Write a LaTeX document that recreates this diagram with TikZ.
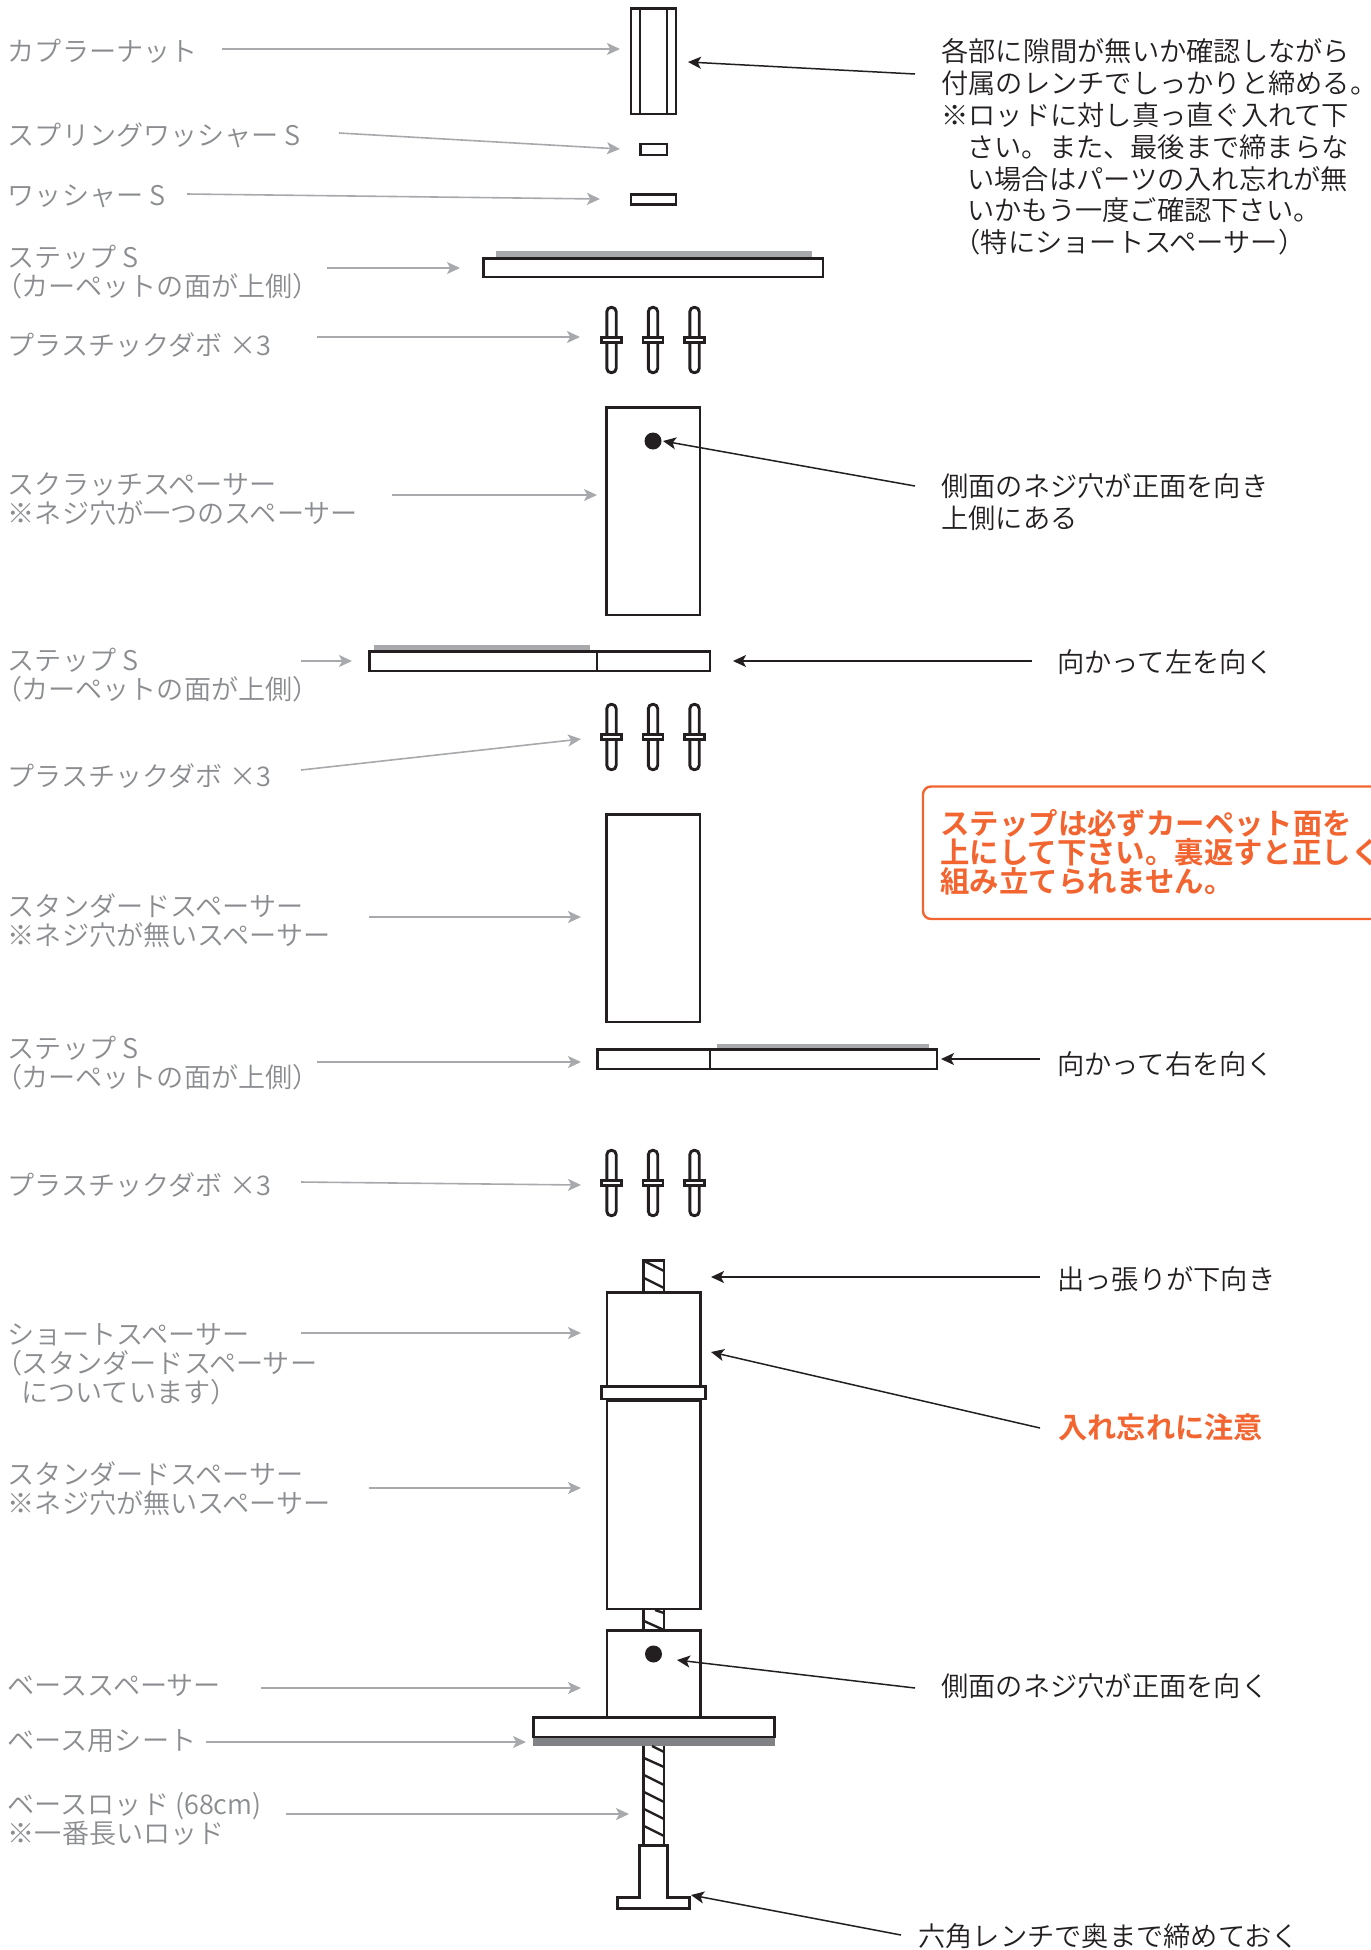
\documentclass[tikz,border=0pt]{standalone}
\usepackage{fontspec}
\usetikzlibrary{arrows.meta}
\setmainfont{Noto Sans CJK JP}
\newfontfamily\lightcjk{Noto Sans CJK JP DemiLight}
\newfontfamily\boldcjk{Noto Sans CJK JP Bold}
\definecolor{ink}{HTML}{231F20}
\definecolor{labgrey}{HTML}{8A8C8F}
\definecolor{arrgrey}{HTML}{A7A9AC}
\definecolor{carpet}{HTML}{A7A9AC}
\definecolor{sheet}{HTML}{808285}
\definecolor{warn}{HTML}{F26531}
\newcommand{\lpar}{{\addfontfeatures{RawFeature=+palt}（}}
\newcommand{\rpar}{）}
\newcommand{\garrow}[3]{%
  \coordinate (#1s) at (#2); \coordinate (#1e) at (#3);
  \draw[greyarrow] (#1s) -- (#1e);}
\newcommand{\barrow}[3]{%
  \coordinate (#1s) at (#2); \coordinate (#1e) at (#3);
  \draw[blackarrow] (#1s) -- (#1e);}
\newcommand{\dowel}[2]{%
  \draw[part,rounded corners=2.2pt] (#1-4.7,#2+1.3) rectangle (#1+4.7,#2+66.7);
  \draw[part,fill=white] (#1-10,#2+31.5) rectangle (#1+10,#2+36.5);}
\newcommand{\dowels}[1]{\dowel{611.5}{#1}\dowel{653}{#1}\dowel{694.5}{#1}}
\tikzset{
  x=0.5pt,y=-0.5pt,
  part/.style={draw=ink,line width=1.45pt,line join=miter},
  thin part/.style={draw=ink,line width=1pt},
  hatch/.style={draw=ink,line width=1.2pt},
  greyarrow/.style={draw=arrgrey,line width=0.8pt,-{Stealth[length=6.5pt,width=6pt,inset=1.6pt]}},
  blackarrow/.style={draw=ink,line width=0.75pt,-{Stealth[length=6.5pt,width=6pt,inset=1.6pt]}},
  leftlab/.style={anchor=west,inner sep=0pt,align=left,text=labgrey,font=\lightcjk\fontsize{13.55}{14.5}\selectfont},
  rightlab/.style={anchor=west,inner sep=0pt,align=left,text=ink,font=\lightcjk\fontsize{13.62}{15.9}\selectfont},
  warnlab/.style={anchor=west,inner sep=0pt,align=left,text=warn,font=\boldcjk\fontsize{14.7}{14.5}\selectfont},
}
\begin{document}
\begin{tikzpicture}
\useasboundingbox (0,0) rectangle (1371,1950);
\clip (0,0) rectangle (1371,1950);
% carpets and sheet
\fill[carpet] (496,251) rectangle (812,257.5);
\fill[carpet] (374,645) rectangle (590,651);
\fill[carpet] (717,1044) rectangle (929,1049);
\fill[sheet] (533,1737) rectangle (775,1746);
% coupler nut
\draw[part] (631,8.5) rectangle (676,114);
\draw[part] (640,8.5) -- (640,114) (667,8.5) -- (667,114);
% washers
\draw[part] (640.5,144) rectangle (667,155);
\draw[part] (631,194.5) rectangle (676,204.5);
% step 1
\draw[part] (483.5,258.5) rectangle (823,277);
\dowels{306}
% scratch spacer
\draw[part] (606.5,407.5) rectangle (700,615);
\fill[ink] (653,441) circle[radius=8.5];
% step 2
\draw[part] (369.5,651.5) rectangle (710,671);
\draw[thin part] (597,651) -- (597,671);
\dowels{703}
% standard spacer
\draw[part] (606.5,814.5) rectangle (700,1022);
% step 3
\draw[part] (597.5,1049.5) rectangle (937,1069);
\draw[thin part] (710,1049) -- (710,1069);
\dowels{1149}
% top thread
\draw[part] (643.5,1260.5) rectangle (664,1292);
\draw[hatch] (644,1261) -- (664,1271) (644,1278) -- (664,1288);
% short spacer and collar
\draw[part] (607,1292.5) rectangle (700.5,1386);
\draw[part,fill=white] (601.5,1386.5) rectangle (705.5,1399);
\draw[ink,line width=1.9pt] (607,1400.5) -- (700.5,1400.5);
% long spacer
\draw[part] (607,1400) rectangle (700.5,1609);
% middle thread
\draw[part] (643.5,1609) -- (643.5,1630) (664,1609) -- (664,1630);
\draw[hatch] (655,1610) -- (664,1613) (644,1621) -- (664,1630);
% base spacer
\draw[part] (607,1630.5) rectangle (700.5,1717);
\fill[ink] (653.5,1654) circle[radius=8.5];
\draw[part,fill=white] (533.5,1717.5) rectangle (774.5,1737);
% rod
\draw[part] (643.5,1746) -- (643.5,1845) (664,1746) -- (664,1845);
\draw[hatch] (652,1746) -- (664,1752);
\draw[hatch] (644,1758) -- (664,1767) (644,1775) -- (664,1785) (644,1792) -- (664,1802) (644,1809) -- (664,1819) (644,1826) -- (664,1836);
% bolt
\draw[part] (639.5,1845.5) -- (667.5,1845.5) -- (667.5,1897.5) -- (689.5,1897.5) -- (689.5,1908.5) -- (617.5,1908.5) -- (617.5,1897.5) -- (639.5,1897.5) -- cycle;
% grey arrows
\garrow{a1}{222,49}{620,49}
\garrow{a2}{339,133}{620,149}
\garrow{a3}{187,194}{600,199}
\garrow{a4}{327,268}{460,268}
\garrow{a5}{317,337}{580,337}
\garrow{a6}{392,495}{597,495}
\garrow{a7}{301,661}{352,661}
\garrow{a8}{301,770}{581,739}
\garrow{a9}{369,917}{581,917}
\garrow{a10}{317,1062}{581,1062}
\garrow{a11}{301,1182}{581,1185}
\garrow{a12}{301,1333}{581,1333}
\garrow{a13}{369,1488}{581,1488}
\garrow{a14}{261,1688}{581,1688}
\garrow{a15}{206,1742}{526,1742}
\garrow{a16}{286,1814}{629,1814}
% black arrows
\barrow{b1}{915,74}{688,62}
\barrow{b2}{915,486}{663,441}
\barrow{b3}{1032,661}{733,661}
\barrow{b4}{1040,1059}{941,1059}
\barrow{b5}{1040,1277}{711,1277}
\barrow{b6}{1040,1428}{711,1352}
\barrow{b7}{915,1688}{677,1660}
\barrow{b8}{901,1935}{691,1895}
% left labels
\node[leftlab] (l1) at (7.5,51) {カプラーナット};
\node[leftlab] (l2) at (7.5,135) {スプリングワッシャー S};
\node[leftlab] (l3) at (7.5,196) {ワッシャー S};
\node[leftlab] (l4) at (7.5,272) {ステップ S\\\lpar カーペットの面が上側\rpar};
\node[leftlab] (l5) at (7.5,345) {プラスチックダボ ×3};
\node[leftlab] (l6) at (7.5,499) {スクラッチスペーサー\\※ネジ穴が一つのスペーサー};
\node[leftlab] (l7) at (7.5,675) {ステップ S\\\lpar カーペットの面が上側\rpar};
\node[leftlab] (l8) at (7.5,776) {プラスチックダボ ×3};
\node[leftlab] (l9) at (7.5,921) {スタンダードスペーサー\\※ネジ穴が無いスペーサー};
\node[leftlab] (l10) at (7.5,1063) {ステップ S\\\lpar カーペットの面が上側\rpar};
\node[leftlab] (l11) at (7.5,1185) {プラスチックダボ ×3};
\node[leftlab] (l12) at (7.5,1364) {ショートスペーサー\\\lpar スタンダードスペーサー\\\hspace{0.5em}についています\rpar};
\node[leftlab] (l13) at (7.5,1489) {スタンダードスペーサー\\※ネジ穴が無いスペーサー};
\node[leftlab] (l14) at (7.5,1686) {ベーススペーサー};
\node[leftlab] (l15) at (7.5,1741) {ベース用シート};
\node[leftlab] (l16) at (7.5,1819) {ベースロッド (68cm)\\※一番長いロッド};
% right labels
\node[rightlab] (r1) at (941,147) {各部に隙間が無いか確認しながら\\付属のレンチでしっかりと締める。\\※ロッドに対し真っ直ぐ入れて下\\\hspace{0.95em}さい。また、最後まで締まらな\\\hspace{0.95em}い場合はパーツの入れ忘れが無\\\hspace{0.95em}いかもう一度ご確認下さい。\\\hspace{0.45em}（特にショートスペーサー）};
\node[rightlab] (r2) at (941,502) {側面のネジ穴が正面を向き\\上側にある};
\node[rightlab] (r3) at (1057,662) {向かって左を向く};
\node[rightlab] (r4) at (1057,1064) {向かって右を向く};
\node[rightlab] (r5) at (1057,1279) {出っ張りが下向き};
\node[warnlab,font=\boldcjk\fontsize{14.6}{14.5}\selectfont] (r6) at (1058,1427) {入れ忘れに注意};
\node[rightlab] (r7) at (941,1686) {側面のネジ穴が正面を向く};
\node[rightlab] (r8) at (918,1936) {六角レンチで奥まで締めておく};
% warning box
\draw[warn,line width=1.2pt,rounded corners=4pt] (923,786.5) rectangle (1400,919);
\node[warnlab] (w1) at (940,852) {ステップは必ずカーペット面を\\上にして下さい。裏返すと正しく\\組み立てられません。};
\end{tikzpicture}
\end{document}
